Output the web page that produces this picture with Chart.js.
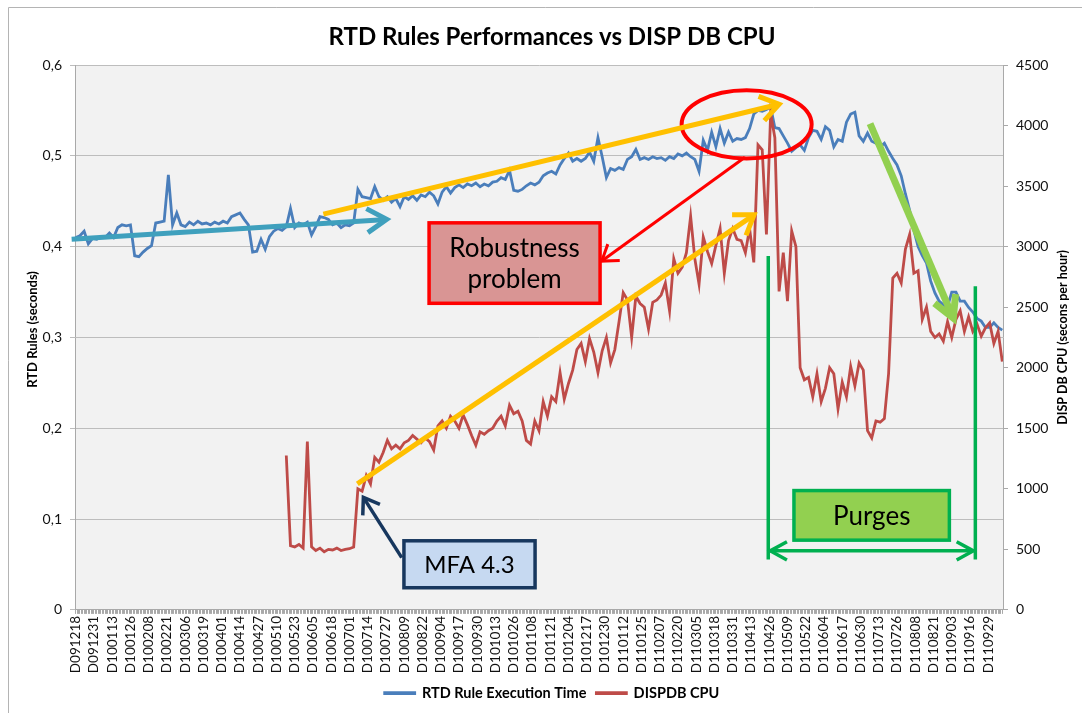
<!DOCTYPE html>
<html>
<head>
<meta charset="utf-8">
<script src="https://cdn.jsdelivr.net/npm/chart.js@4.4.1/dist/chart.umd.min.js"></script>
<style>
html,body{margin:0;padding:0;background:#ffffff;}
#wrap{width:1082px;height:713px;position:relative;overflow:hidden;}
</style>
</head>
<body>
<div id="wrap"><canvas id="c" width="1082" height="713"></canvas></div>
<script>
// ---------- DATA ----------
const tickLabels = [
  'D091218','D091231','D100113','D100126','D100208','D100221','D100306','D100319','D100401','D100414',
  'D100427','D100510','D100523','D100605','D100618','D100701','D100714','D100727','D100809','D100822',
  'D100904','D100917','D100930','D101013','D101026','D101108','D101121','D101204','D101217','D101230',
  'D110112','D110125','D110207','D110220','D110305','D110318','D110331','D110413','D110426','D110509',
  'D110522','D110604','D110617','D110630','D110713','D110726','D110808','D110821','D110903','D110916',
  'D110929'
];
const LABEL_EVERY_DAYS = 13;   // one tick label every 13 daily categories
const SAMPLE_STEP_DAYS = 3;    // values below are read every 3 days
const LAST_DAY = 660;          // daily categories 0..660

const leftTickLabels  = ['0','0,1','0,2','0,3','0,4','0,5','0,6'];
const rightTickLabels = ['0','500','1000','1500','2000','2500','3000','3500','4000','4500'];

// RTD Rule Execution Time (seconds), one value every 3 days from D091218
const rtdSeconds = [
  0.410,0.412,0.417,0.403,0.409,0.408,0.411,0.410,0.415,0.410,
  0.421,0.424,0.423,0.424,0.390,0.389,0.394,0.398,0.401,0.426,
  0.427,0.428,0.479,0.424,0.437,0.424,0.422,0.427,0.424,0.428,
  0.425,0.426,0.424,0.427,0.425,0.428,0.426,0.433,0.435,0.437,
  0.430,0.424,0.394,0.395,0.408,0.397,0.411,0.417,0.420,0.418,
  0.422,0.442,0.421,0.426,0.424,0.427,0.413,0.422,0.433,0.432,
  0.430,0.424,0.426,0.421,0.424,0.423,0.426,0.463,0.455,0.454,
  0.453,0.466,0.455,0.451,0.455,0.449,0.453,0.444,0.455,0.452,
  0.456,0.451,0.457,0.455,0.460,0.456,0.447,0.460,0.466,0.459,
  0.465,0.468,0.465,0.469,0.467,0.470,0.466,0.469,0.467,0.471,
  0.472,0.476,0.474,0.484,0.462,0.461,0.463,0.467,0.470,0.468,
  0.471,0.478,0.481,0.483,0.480,0.490,0.497,0.503,0.494,0.497,
  0.494,0.497,0.504,0.494,0.520,0.499,0.476,0.486,0.484,0.487,
  0.485,0.496,0.499,0.507,0.496,0.498,0.496,0.499,0.497,0.498,
  0.495,0.499,0.497,0.502,0.500,0.503,0.499,0.496,0.483,0.517,
  0.506,0.526,0.510,0.530,0.514,0.526,0.516,0.519,0.518,0.520,
  0.530,0.546,0.550,0.549,0.551,0.554,0.531,0.530,0.522,0.514,
  0.505,0.509,0.512,0.506,0.520,0.528,0.527,0.518,0.532,0.528,
  0.510,0.518,0.516,0.537,0.546,0.548,0.522,0.516,0.525,0.516,
  0.514,0.510,0.514,0.505,0.497,0.490,0.478,0.458,0.440,0.418,
  0.400,0.390,0.382,0.362,0.349,0.340,0.336,0.334,0.350,0.350,
  0.340,0.340,0.333,0.328,0.321,0.318,0.311,0.311,0.316,0.311,
  0.308
];

// DISPDB CPU (seconds per hour), same 3-day sampling; no data before D100514
const dispCpu = [
  null,null,null,null,null,null,null,null,null,null,
  null,null,null,null,null,null,null,null,null,null,
  null,null,null,null,null,null,null,null,null,null,
  null,null,null,null,null,null,null,null,null,null,
  null,null,null,null,null,null,null,null,null,null,
  1275,530,520,540,510,1390,520,490,510,480,
  500,495,510,490,500,505,520,1000,980,1110,
  1040,1260,1220,1300,1400,1330,1360,1330,1380,1400,
  1440,1410,1380,1420,1390,1320,1520,1560,1500,1600,
  1560,1500,1610,1530,1440,1360,1470,1450,1480,1500,
  1560,1600,1520,1690,1620,1640,1560,1400,1370,1560,
  1480,1720,1600,1760,1720,1960,1740,1870,1980,2150,
  2200,2050,2240,2130,1960,2140,2250,2040,2150,2380,
  2620,2560,2250,2590,2530,2500,2320,2540,2560,2600,
  2700,2470,2900,2780,2830,2950,3250,2900,2690,3080,
  2960,2860,3010,3150,2780,3050,3150,3060,3050,2950,
  3150,2870,3840,3800,3100,4100,3900,2630,2950,2550,
  3130,3000,2000,1900,1920,1760,1950,1720,1830,2000,
  1950,1660,1880,1760,2010,1850,2040,1980,1480,1420,
  1560,1550,1580,1950,2740,2780,2700,2980,3100,2780,
  2800,2400,2500,2300,2250,2280,2220,2380,2250,2400,
  2470,2300,2420,2300,2360,2260,2330,2370,2200,2300,
  2050
];

// ---------- CHART ----------
const FONT = 'Lato, "Open Sans", "DejaVu Sans", sans-serif';
Chart.defaults.font.family = FONT;

const toPoints = arr => arr.map((v, i) => ({ x: i * SAMPLE_STEP_DAYS, y: v }));

// Callouts, anchored in data units (day index, seconds on the left axis)
const callouts = {
  tealArrow:   { from: [-2.9, 0.408], to: [221.5, 0.430] },
  yellowTop:   { from: [176.4, 0.4358], to: [501.0, 0.5568] },
  yellowLow:   { from: [200.6, 0.1387], to: [483.2, 0.4350] },
  greenArrow:  { from: [565.8, 0.5355], to: [625.1, 0.3214] },
  ellipse:     { center: [477.9, 0.5347], rDays: 46.3, rValue: 0.0376 },
  redArrow:    { from: [476.7, 0.4985], to: [374.7, 0.3841] },
  robustBox:   { x0: 251.7, x1: 373.5, y0: 0.4262, y1: 0.3376, size: 26, lines: ['Robustness', 'problem'] },
  mfaArrow:    { from: [232.2, 0.0576], to: [204.9, 0.1239] },
  mfaBox:      { x0: 233.8, x1: 327.2, y0: 0.0761, y1: 0.0244, size: 24, lines: ['MFA 4.3'] },
  purgeLeft:   { x: 493.3, top: 0.3897, bottom: 0.0554 },
  purgeRight:  { x: 640.8, top: 0.3565, bottom: 0.0554 },
  purgeSpan:   { y: 0.065 },
  purgeBox:    { x0: 511.6, x1: 622.3, y0: 0.1314, y1: 0.0768, size: 26, lines: ['Purges'] }
};

function chevron(ctx, x1, y1, x2, y2, len, ang) {
  const a = Math.atan2(y2 - y1, x2 - x1);
  ctx.beginPath();
  ctx.moveTo(x2 - len * Math.cos(a - ang), y2 - len * Math.sin(a - ang));
  ctx.lineTo(x2, y2);
  ctx.lineTo(x2 - len * Math.cos(a + ang), y2 - len * Math.sin(a + ang));
  ctx.stroke();
}
function arrow(ctx, X, Y, def, color, width, len, ang) {
  const x1 = X(def.from[0]), y1 = Y(def.from[1]), x2 = X(def.to[0]), y2 = Y(def.to[1]);
  ctx.strokeStyle = color; ctx.lineWidth = width;
  ctx.beginPath(); ctx.moveTo(x1, y1); ctx.lineTo(x2, y2); ctx.stroke();
  chevron(ctx, x1, y1, x2, y2, len, ang);
}
function textBox(ctx, X, Y, def, fill, stroke) {
  const x0 = X(def.x0), x1 = X(def.x1), y0 = Y(def.y0), y1 = Y(def.y1);
  ctx.fillStyle = fill; ctx.fillRect(x0, y0, x1 - x0, y1 - y0);
  ctx.strokeStyle = stroke; ctx.lineWidth = 3.5; ctx.strokeRect(x0, y0, x1 - x0, y1 - y0);
  ctx.fillStyle = '#000';
  ctx.font = def.size + 'px ' + FONT;
  ctx.textAlign = 'center'; ctx.textBaseline = 'middle';
  const cx = (x0 + x1) / 2, cy = (y0 + y1) / 2, lh = 31;
  def.lines.forEach((t, i) => {
    ctx.fillText(t, cx, cy + (i - (def.lines.length - 1) / 2) * lh + 1);
  });
}

const framePlugin = {
  id: 'frame',
  beforeDraw(chart) {
    const ctx = chart.ctx, a = chart.chartArea;
    ctx.save();
    ctx.fillStyle = '#ffffff';
    ctx.fillRect(0, 0, chart.width, chart.height);
    ctx.strokeStyle = '#B4B4B4'; ctx.lineWidth = 1;
    ctx.beginPath();
    ctx.moveTo(8.5, chart.height); ctx.lineTo(8.5, 7.5); ctx.lineTo(chart.width, 7.5);
    ctx.stroke();
    ctx.fillStyle = '#F2F2F2';
    ctx.fillRect(a.left, a.top, a.right - a.left, a.bottom - a.top);
    ctx.restore();
  },
  afterDraw(chart) {
    const ctx = chart.ctx, a = chart.chartArea;
    const cy = (a.top + a.bottom) / 2;
    ctx.save();
    ctx.fillStyle = '#000';
    ctx.font = 'bold 13px ' + FONT;
    ctx.textAlign = 'center'; ctx.textBaseline = 'middle';
    ctx.translate(33, cy - 8); ctx.rotate(-Math.PI / 2);
    ctx.fillText('RTD Rules (seconds)', 0, 0);
    ctx.restore();
    ctx.save();
    ctx.fillStyle = '#000';
    ctx.font = 'bold 12.5px ' + FONT;
    ctx.textAlign = 'center'; ctx.textBaseline = 'middle';
    ctx.translate(1063, cy); ctx.rotate(-Math.PI / 2);
    ctx.fillText('DISP DB CPU (secons per hour)', 0, 0);
    ctx.restore();
  }
};

const calloutPlugin = {
  id: 'callouts',
  afterDatasetsDraw(chart) {
    const ctx = chart.ctx;
    const xs = chart.scales.x, ys = chart.scales.y;
    const X = v => xs.getPixelForValue(v), Y = v => ys.getPixelForValue(v);
    const c = callouts;
    ctx.save();
    ctx.lineCap = 'butt'; ctx.lineJoin = 'miter';

    // red ellipse + arrow to the box
    ctx.strokeStyle = '#FF0000'; ctx.lineWidth = 4;
    ctx.beginPath();
    ctx.ellipse(X(c.ellipse.center[0]), Y(c.ellipse.center[1]),
      X(c.ellipse.rDays) - X(0), Y(0) - Y(c.ellipse.rValue), 0, 0, Math.PI * 2);
    ctx.stroke();
    arrow(ctx, X, Y, c.redArrow, '#FF0000', 3, 18, 0.6);

    // trend arrows
    arrow(ctx, X, Y, c.tealArrow, '#3FA0BD', 5, 23, 0.55);
    arrow(ctx, X, Y, c.yellowTop, '#FFC000', 5, 22, 0.6);
    arrow(ctx, X, Y, c.yellowLow, '#FFC000', 5, 22, 0.6);
    arrow(ctx, X, Y, c.greenArrow, '#92D050', 7, 24, 0.5);

    // MFA callout
    arrow(ctx, X, Y, c.mfaArrow, '#17375E', 3.5, 18, 0.6);
    textBox(ctx, X, Y, c.mfaBox, '#C6D9F1', '#17375E');

    // Robustness box
    textBox(ctx, X, Y, c.robustBox, '#D99594', '#FF0000');

    // Purges span
    ctx.strokeStyle = '#00B050'; ctx.lineWidth = 3.5;
    [c.purgeLeft, c.purgeRight].forEach(p => {
      ctx.beginPath(); ctx.moveTo(X(p.x), Y(p.top)); ctx.lineTo(X(p.x), Y(p.bottom)); ctx.stroke();
    });
    const sy = Y(c.purgeSpan.y), sx0 = X(c.purgeLeft.x) + 2, sx1 = X(c.purgeRight.x) - 2;
    ctx.beginPath(); ctx.moveTo(sx0, sy); ctx.lineTo(sx1, sy); ctx.stroke();
    chevron(ctx, sx0 + 10, sy, sx0, sy, 19, 0.5);
    chevron(ctx, sx1 - 10, sy, sx1, sy, 19, 0.5);
    textBox(ctx, X, Y, c.purgeBox, '#92D050', '#00B050');

    ctx.restore();
  }
};

new Chart(document.getElementById('c'), {
  type: 'line',
  data: {
    datasets: [
      {
        label: 'RTD Rule Execution Time',
        data: toPoints(rtdSeconds),
        yAxisID: 'y',
        borderColor: '#4A7EBB', backgroundColor: '#4A7EBB',
        borderWidth: 2.8, pointRadius: 0, tension: 0, order: 2
      },
      {
        label: 'DISPDB CPU',
        data: toPoints(dispCpu),
        yAxisID: 'y2',
        borderColor: '#BE4B48', backgroundColor: '#BE4B48',
        borderWidth: 2.8, pointRadius: 0, tension: 0, spanGaps: false, order: 1
      }
    ]
  },
  options: {
    responsive: false,
    animation: false,
    devicePixelRatio: 1,
    events: [],
    layout: { padding: { left: 22, right: 0, top: 0, bottom: 2.6 } },
    plugins: {
      title: {
        display: true,
        text: 'RTD Rules Performances vs DISP DB CPU',
        color: '#000',
        font: { family: FONT, size: 24, weight: 'bold', lineHeight: 1.2 },
        padding: { top: 23, bottom: 13.2 }
      },
      legend: {
        position: 'bottom',
        labels: {
          boxWidth: 30, boxHeight: 1, padding: 10, color: '#000',
          font: { family: FONT, size: 14.5, weight: 'bold' },
          sort: (a, b) => a.datasetIndex - b.datasetIndex
        }
      },
      tooltip: { enabled: false }
    },
    scales: {
      x: {
        type: 'linear',
        min: -0.5, max: LAST_DAY + 0.5,
        bounds: 'data',
        afterBuildTicks: s => {
          s.ticks = Array.from({ length: LAST_DAY + 1 }, (_, d) => ({ value: d }));
        },
        afterFit: s => { s.height = 66; },
        grid: { drawOnChartArea: false, drawTicks: true, tickLength: 4, color: '#A9A9A9' },
        border: { display: true, color: '#A9A9A9' },
        ticks: {
          autoSkip: false, minRotation: 90, maxRotation: 90, padding: 2,
          color: '#111', font: { family: FONT, size: 13.5 },
          callback: v => (v % LABEL_EVERY_DAYS === 0) ? tickLabels[v / LABEL_EVERY_DAYS] : ''
        }
      },
      y: {
        position: 'left',
        min: 0, max: 0.6,
        afterBuildTicks: s => { s.ticks = leftTickLabels.map((_, i) => ({ value: i / 10 })); },
        afterFit: s => { s.width = 53; },
        grid: { color: '#BDBDBD', tickLength: 5 },
        border: { display: true, color: '#A9A9A9' },
        ticks: {
          padding: 8, color: '#111', font: { family: FONT, size: 14 },
          callback: (v, i) => leftTickLabels[i]
        }
      },
      y2: {
        position: 'right',
        min: 0, max: 4500,
        afterBuildTicks: s => { s.ticks = rightTickLabels.map((t, i) => ({ value: Number(t) })); },
        afterFit: s => { s.width = 79; },
        grid: { drawOnChartArea: false, tickLength: 5, color: '#A9A9A9' },
        border: { display: true, color: '#A9A9A9' },
        ticks: {
          padding: 8, color: '#111', font: { family: FONT, size: 14 },
          callback: (v, i) => rightTickLabels[i]
        }
      }
    }
  },
  plugins: [framePlugin, calloutPlugin]
});
</script>
</body>
</html>
